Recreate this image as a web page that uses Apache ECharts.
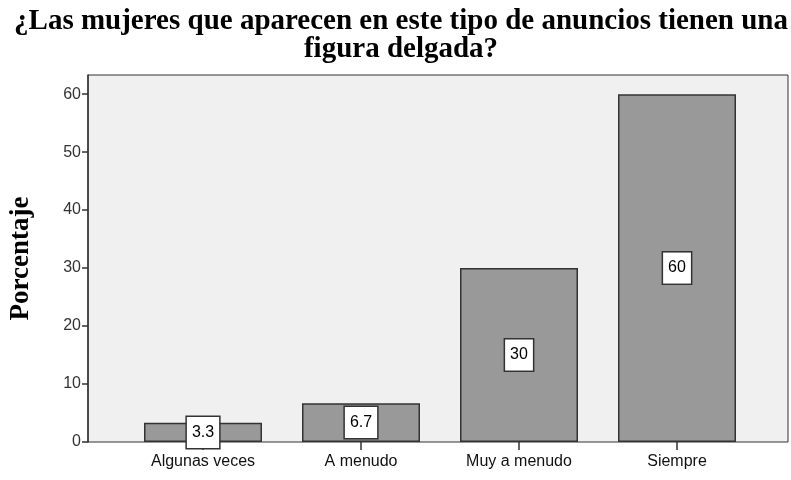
<!DOCTYPE html>
<html>
<head>
<meta charset="utf-8">
<script src="https://cdn.jsdelivr.net/npm/echarts@6/dist/echarts.min.js"></script>
<style>
  html, body { margin: 0; padding: 0; background: #fff; }
  #chart { width: 791px; height: 480px; }
</style>
</head>
<body>
<div id="chart"></div>
<script>
var categories = ['Algunas veces', 'A menudo', 'Muy a menudo', 'Siempre'];
var percentages = [3.3, 6.7, 30, 60];
var yMin = 0, yMax = 63.3, yStep = 10;

var chart = echarts.init(document.getElementById('chart'));

var option = {
  backgroundColor: '#fff',
  animation: false,
  title: {
    text: '¿Las mujeres que aparecen en este tipo de anuncios tienen una\nfigura delgada?',
    left: 396,
    top: 3,
    textAlign: 'center',
    textStyle: {
      fontFamily: 'Liberation Serif',
      fontWeight: 'bold',
      fontSize: 29,
      lineHeight: 28,
      color: '#000'
    }
  },
  grid: [
    // frame + y axis
    { left: 88, right: 3, top: 75, bottom: 38, show: true, backgroundColor: '#f0f0f0', borderColor: '#333', borderWidth: 1 },
    // bars
    { left: 124, right: 35, top: 75, bottom: 38 }
  ],
  xAxis: [
    { gridIndex: 0, type: 'value', show: false, min: 0, max: 1 },
    {
      gridIndex: 1,
      type: 'category',
      data: categories,
      axisLine: { show: false },
      axisTick: { show: true, alignWithLabel: true, length: 8, lineStyle: { color: '#333', width: 1.5 } },
      axisLabel: { color: '#111', fontFamily: 'Arial, Liberation Sans', fontSize: 16, margin: 12 }
    }
  ],
  yAxis: [
    {
      gridIndex: 0,
      type: 'value',
      min: yMin, max: yMax, interval: yStep,
      name: 'Porcentaje',
      nameLocation: 'middle',
      nameRotate: 90,
      nameGap: 53,
      nameTextStyle: { fontFamily: 'Liberation Serif', fontWeight: 'bold', fontSize: 27, color: '#000' },
      axisLine: { show: true, lineStyle: { color: '#333', width: 1.5 } },
      axisTick: { show: true, length: 6, lineStyle: { color: '#333', width: 1.5 } },
      axisLabel: {
        color: '#333', fontFamily: 'Arial, Liberation Sans', fontSize: 16, margin: 7,
        showMaxLabel: false,
        formatter: function (v) { return v % 10 === 0 ? v : ''; }
      },
      splitLine: { show: false }
    },
    { gridIndex: 1, type: 'value', min: yMin, max: yMax, show: false }
  ],
  series: [
    {
      type: 'bar',
      xAxisIndex: 1,
      yAxisIndex: 1,
      data: percentages,
      barWidth: 118,
      itemStyle: { color: '#999999', borderColor: '#333', borderWidth: 1.5 },
      label: {
        show: true,
        position: 'inside',
        color: '#000',
        fontFamily: 'Arial, Liberation Sans',
        fontSize: 16,
        backgroundColor: '#fff',
        borderColor: '#333',
        borderWidth: 1.5,
        padding: [8, 5, 7, 5]
      }
    }
  ]
};

chart.setOption(option);
</script>
</body>
</html>
